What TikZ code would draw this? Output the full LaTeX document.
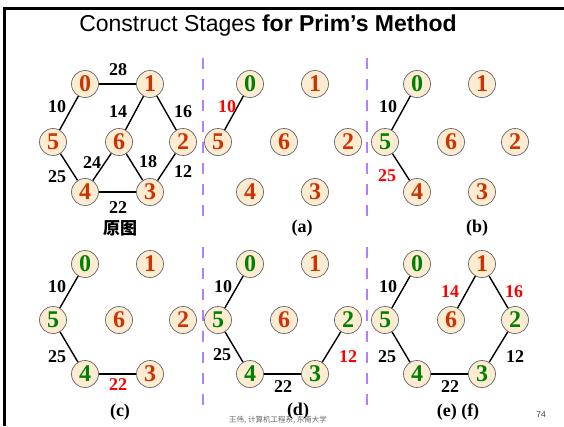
\documentclass[tikz,border=0pt]{standalone}
\usepackage{fontspec}
\setmainfont{Liberation Serif}
\setsansfont{Liberation Sans}
\newfontfamily\cjk{Noto Sans CJK SC}
\definecolor{orn}{RGB}{204,51,0}
\definecolor{grn}{RGB}{0,128,0}
\definecolor{beige}{RGB}{253,236,210}
\definecolor{vio}{RGB}{178,128,255}
\definecolor{redl}{RGB}{255,0,0}
\makeatletter
\newcommand\gpanel[6]{%
  \foreach \n/\dx/\yy in {0/0/#3,1/65/#3,5/-32/#4,6/34/#4,2/98/#4,4/0/#5,3/65/#5}{%
    \edef\tmp{\noexpand\in@{,\n,}{,#6,}}\tmp
    \ifin@\def\col{grn}\else\def\col{orn}\fi
    \node[vx,text=\col] (#1\n) at ({#2+\dx},\yy) {\n};
  }}
\makeatother
\begin{document}
\begin{tikzpicture}[x=1pt,y=-1pt,
  vx/.style={circle,draw=black!60,fill=beige,line width=0.7pt,minimum size=27pt,inner sep=0pt,font=\fontsize{24}{24}\selectfont\bfseries},
  wl/.style={font=\fontsize{18}{18}\selectfont\bfseries,inner sep=0pt},
  hot/.style={wl,text=redl},
  ed/.style={line width=1.4pt},
  capt/.style={font=\fontsize{18}{18}\selectfont\bfseries,inner sep=0pt},
  sep/.style={vio,line width=2.5pt,dash pattern=on 11pt off 10pt}]
\useasboundingbox (0,0) rectangle (564,426);
\fill[white] (0,0) rectangle (564,426);
% frame
\draw[line width=2.2pt] (4.5,426) -- (4.5,8.5) -- (564,8.5);
% title
\node[anchor=base,font=\sffamily\fontsize{23}{23}\selectfont] (title) at (268,31) {Construct Stages \textbf{for Prim's Method}};
% separators
\draw[sep] (203,58) -- (203,218);
\draw[sep] (367,58) -- (367,218);
\draw[sep] (203,247) -- (203,407);
\draw[sep] (367,247) -- (367,407);
% panels
\gpanel{o}{85}{84}{142}{192}{}
\gpanel{a}{250}{84}{142}{192}{0}
\gpanel{b}{417}{84}{142}{192}{0,5}
\gpanel{c}{85}{264}{320}{374}{0,5,4}
\gpanel{d}{250}{264}{320}{374}{0,5,4,3,2}
\gpanel{e}{417}{264}{320}{374}{0,5,4,3,2}
% original graph
\draw[ed] (o0) -- (o1);
\draw[ed] (o0) -- (o5);
\draw[ed] (o1) -- (o6);
\draw[ed] (o1) -- (o2);
\draw[ed] (o5) -- (o4);
\draw[ed] (o6) -- (o4);
\draw[ed] (o6) -- (o3);
\draw[ed] (o2) -- (o3);
\draw[ed] (o4) -- (o3);
\node[wl] (o28) at (118,70) {28};
\node[wl] (o10) at (57,107) {10};
\node[wl] (o14) at (118,112) {14};
\node[wl] (o16) at (183,112) {16};
\node[wl] (o24) at (92,163) {24};
\node[wl] (o18) at (148,162) {18};
\node[wl] (o25) at (57,177) {25};
\node[wl] (o12) at (183,172) {12};
\node[wl] (o22) at (118,208) {22};
\node[capt,font=\cjk\fontsize{17}{17}\selectfont\bfseries] (ocap) at (120,228) {原图};
% (a)
\draw[ed] (a0) -- (a5);
\node[hot] (a10) at (227,107) {10};
\node[capt] (acap) at (302,228) {(a)};
% (b)
\draw[ed] (b0) -- (b5);
\draw[ed] (b5) -- (b4);
\node[wl] (b10) at (388,107) {10};
\node[hot] (b25) at (387,176) {25};
\node[capt] (bcap) at (477,228) {(b)};
% (c)
\draw[ed] (c0) -- (c5);
\draw[ed] (c5) -- (c4);
\draw[ed] (c4) -- (c3);
\node[wl] (c10) at (57,287) {10};
\node[wl] (c25) at (57,357) {25};
\node[hot] (c22) at (118,385) {22};
\node[capt] (ccap) at (120,412) {(c)};
% (d)
\draw[ed] (d0) -- (d5);
\draw[ed] (d5) -- (d4);
\draw[ed] (d4) -- (d3);
\draw[ed] (d3) -- (d2);
\node[wl] (d10) at (223,287) {10};
\node[wl] (d25) at (222,355) {25};
\node[wl] (d22) at (283,387) {22};
\node[hot] (d12) at (348,357) {12};
\node[capt] (dcap) at (298,411) {(d)};
% (e)(f)
\draw[ed] (e0) -- (e5);
\draw[ed] (e5) -- (e4);
\draw[ed] (e4) -- (e3);
\draw[ed] (e3) -- (e2);
\draw[ed] (e2) -- (e1);
\draw[ed] (e1) -- (e6);
\node[wl] (e10) at (388,287) {10};
\node[hot] (e14) at (450,292) {14};
\node[hot] (e16) at (514,292) {16};
\node[wl] (e25) at (387,357) {25};
\node[wl] (e12) at (515,357) {12};
\node[wl] (e22) at (450,387) {22};
\node[capt] (ecap) at (458,412) {(e) (f)};
% footer
\node[font=\cjk\fontsize{7.5}{7.5}\selectfont,text=black!60] (foot) at (278,420) {王伟, 计算机工程系, 东南大学};
\node[font=\sffamily\fontsize{8.5}{8.5}\selectfont,text=black!75] (pg) at (541,415) {74};
\end{tikzpicture}
\end{document}
